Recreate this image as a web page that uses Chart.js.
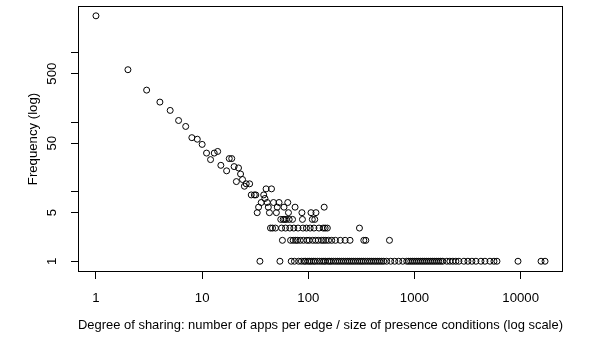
<!DOCTYPE html>
<html>
<head>
<meta charset="utf-8">
<script src="https://cdn.jsdelivr.net/npm/chart.js@4"></script>
<style>
  html, body { margin: 0; padding: 0; background: #fff; }
  #wrap { width: 594px; height: 346px; }
</style>
</head>
<body>
<div id="wrap"><canvas id="sharingChart"></canvas></div>
<script>
// degree of sharing -> how many edges have it (frequency)
// small degrees, one point each
const headDegree = [1, 2, 3, 4, 5, 6, 7, 8, 9, 10,
  11, 12, 13, 14, 15, 17, 18, 19, 20, 21,
  22, 23, 24, 25, 26, 28, 29, 31, 32, 34,
  36, 38, 39, 40, 41, 42, 45, 47, 51, 53,
  59, 64, 75, 141];
const headFreq = [3400, 570, 290, 195, 148, 106, 87, 60, 57, 48,
  36, 29, 36, 38, 24, 20, 30, 30, 23, 14,
  22, 18, 15, 12, 13, 13, 9, 9, 9, 6,
  7, 9, 8, 11, 7, 6, 11, 7, 6, 7,
  6, 7, 6, 6];

// degrees seen exactly 5, 4, 3, 2 and 1 times
const degFreq5 = [33, 43, 50, 65, 87, 106, 118];
const degFreq4 = [55, 58, 60, 62, 66, 71, 88, 109, 115];
const degFreq3 = [44, 46, 49, 56, 61, 67, 73, 80, 89, 96, 104, 113, 126, 138, 144, 151, 303];
const degFreq2 = [57, 68, 72, 76, 79, 84, 90, 97, 102, 110, 117, 124, 133, 139, 146, 155,
  166, 180, 200, 222, 247, 333, 348, 581];
const degFreq1 = [35, 54, 69, 74, 81, 86, 91, 94, 99, 103, 107, 112, 116, 122, 128, 134,
  140, 145, 153, 159, 165, 173, 181, 189, 197, 206, 215, 225, 235, 245, 256, 267,
  279, 292, 305, 318, 331, 346, 362, 379, 395, 413, 431, 450, 470, 491, 513, 547,
  597, 651, 710, 775, 845, 882, 921, 962, 1005, 1050, 1096, 1145, 1196, 1249, 1304,
  1362, 1422, 1485, 1551, 1620, 1692, 1767, 1846, 2017, 2153, 2298, 2453, 2618,
  2919, 3183, 3472, 3787, 4222, 4606, 5134, 5601, 5975, 9430, 15540, 16950];

const xTicks = [1, 10, 100, 1000, 10000];
const yTicks = [1, 5, 10, 50, 100, 500, 1000];
const yTickLabels = [1, 5, 50, 500];

const FONT = '"Liberation Sans", Arial, Helvetica, sans-serif';
const FSIZE = 13.2;

const points = headDegree.map((d, i) => ({ x: d, y: headFreq[i] }));
[[5, degFreq5], [4, degFreq4], [3, degFreq3], [2, degFreq2], [1, degFreq1]].forEach(([f, list]) => {
  list.forEach(d => points.push({ x: d, y: f }));
});

// R style axis range: data range widened by 4% each side (in log space)
function logRange(vals) {
  const lo = Math.log10(Math.min(...vals));
  const hi = Math.log10(Math.max(...vals));
  const pad = (hi - lo) * 0.04;
  return [Math.pow(10, lo - pad), Math.pow(10, hi + pad)];
}
const xRange = logRange(points.map(p => p.x));
const yRange = logRange(points.map(p => p.y));

const frame = {
  id: 'frame',
  afterDraw(chart) {
    const { ctx, chartArea: a, scales } = chart;
    ctx.save();
    ctx.strokeStyle = '#000';
    ctx.lineWidth = 1;
    ctx.strokeRect(Math.round(a.left) + 0.5, Math.round(a.top) + 0.5,
      Math.round(a.right - a.left) - 1, Math.round(a.bottom - a.top) - 1);
    // y tick labels, turned like R does it
    ctx.fillStyle = '#000';
    ctx.font = FSIZE + 'px ' + FONT;
    ctx.textAlign = 'center';
    ctx.textBaseline = 'middle';
    yTickLabels.forEach(v => {
      const py = scales.y.getPixelForValue(v);
      ctx.save();
      ctx.translate(52, py);
      ctx.rotate(-Math.PI / 2);
      ctx.fillText(String(v), 0, 0);
      ctx.restore();
    });
    ctx.restore();
  }
};

const ctx = document.getElementById('sharingChart').getContext('2d');
new Chart(ctx, {
  type: 'scatter',
  data: {
    datasets: [{
      data: points,
      pointStyle: 'circle',
      pointRadius: 3,
      pointHoverRadius: 3,
      borderColor: '#000',
      backgroundColor: 'rgba(0,0,0,0)',
      borderWidth: 1
    }]
  },
  options: {
    responsive: true,
    maintainAspectRatio: false,
    animation: false,
    layout: { padding: { left: 0, right: 31, top: 6, bottom: 0 } },
    plugins: { legend: { display: false }, tooltip: { enabled: false } },
    scales: {
      x: {
        type: 'logarithmic',
        min: xRange[0],
        max: xRange[1],
        afterBuildTicks: s => { s.ticks = xTicks.map(v => ({ value: v })); },
        afterFit: s => { s.height = 74; },
        grid: { drawOnChartArea: false, drawTicks: true, tickLength: 7, color: '#000', tickColor: '#000' },
        border: { display: false },
        ticks: {
          color: '#000', font: { family: FONT, size: FSIZE }, padding: 11,
          maxRotation: 0, autoSkip: false, callback: v => String(v)
        },
        title: {
          display: true,
          text: 'Degree of sharing: number of apps per edge / size of presence conditions (log scale)',
          color: '#000', font: { family: FONT, size: FSIZE }, padding: { top: 0, bottom: 13 }
        }
      },
      y: {
        type: 'logarithmic',
        min: yRange[0],
        max: yRange[1],
        afterBuildTicks: s => { s.ticks = yTicks.map(v => ({ value: v })); },
        afterFit: s => { s.width = 78; },
        grid: { drawOnChartArea: false, drawTicks: true, tickLength: 7, color: '#000', tickColor: '#000' },
        border: { display: false },
        ticks: { display: false },
        title: {
          display: true, text: 'Frequency (log)',
          color: '#000', font: { family: FONT, size: FSIZE }, padding: { top: 25, bottom: 0 }
        }
      }
    }
  },
  plugins: [frame]
});
</script>
</body>
</html>
